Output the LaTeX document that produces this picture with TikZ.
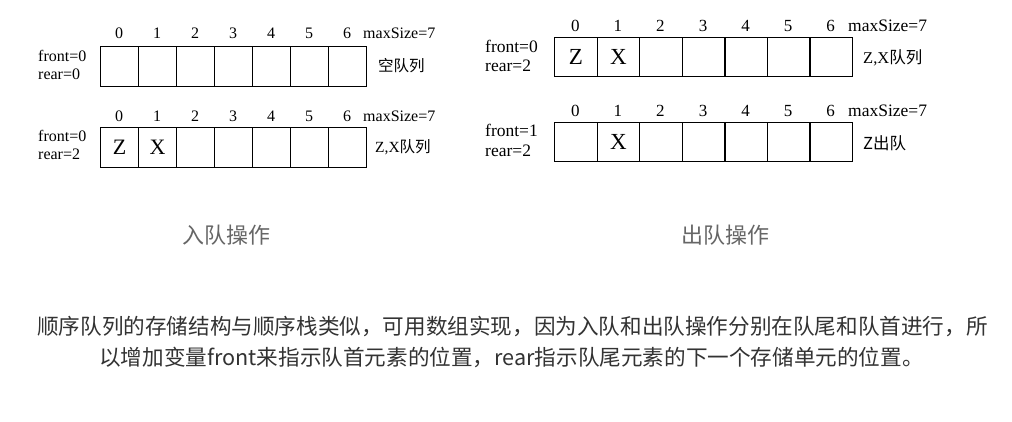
\documentclass[tikz,border=0pt]{standalone}
\usepackage{fontspec}
\setmainfont{Liberation Serif}
\newfontfamily\cjk{Noto Sans CJK SC}
\definecolor{capgray}{HTML}{666666}
\definecolor{txtgray}{HTML}{333333}
\begin{document}
\begin{tikzpicture}[x=1pt,y=-1pt,
  cellL/.style={draw,line width=1.3pt,inner sep=0pt,anchor=north west,minimum width=38pt,minimum height=40pt},
  cellR/.style={draw,line width=1.3pt,inner sep=0pt,anchor=north west,minimum width=42.57pt,minimum height=39pt},
  lblL/.style={inner sep=0pt,anchor=base west,font=\fontsize{16}{18}\selectfont},
  lblR/.style={inner sep=0pt,anchor=base west,font=\fontsize{17.5}{19}\selectfont},
  idxL/.style={inner sep=0pt,anchor=base,font=\fontsize{16}{18}\selectfont},
  idxR/.style={inner sep=0pt,anchor=base,font=\fontsize{17}{19}\selectfont},
  letL/.style={inner sep=0pt,font=\fontsize{22}{24}\selectfont},
  letR/.style={inner sep=0pt,font=\fontsize{23}{25}\selectfont},
  tagL/.style={inner sep=0pt,anchor=west,font=\fontsize{15.5}{17}\selectfont},
  tagR/.style={inner sep=0pt,anchor=west,font=\fontsize{16.5}{18}\selectfont},
  captxt/.style={inner sep=0pt,text=capgray,font=\cjk\fontsize{22}{24}\selectfont},
  paratxt/.style={inner sep=0pt,text=txtgray,font=\cjk\fontsize{21.6}{26}\selectfont}]
\useasboundingbox (0,0) rectangle (1012,422);
\fill[white] (0,0) rectangle (1012,422);

% ---- left top: empty queue
\foreach \i in {0,...,6} {
  \node[cellL] (a\i) at (100+38*\i,46) {};
  \node[idxL] (ai\i) at (119+38*\i,39) {\i};
}
\node[lblL] (amax) at (363,39) {maxSize=7};
\node[lblL] (afront) at (38,61.5) {front=0};
\node[lblL] (arear) at (38,80) {rear=0};
\node[tagL] (atag) at (378,66) {\cjk 空队列};

% ---- left bottom: Z,X queue
\foreach \i in {0,...,6} {
  \node[cellL] (b\i) at (100+38*\i,127) {};
  \node[idxL] (bi\i) at (119+38*\i,121.7) {\i};
}
\node[letL] (bz) at (b0.center) {Z};
\node[letL] (bx) at (b1.center) {X};
\node[lblL] (bmax) at (363,121.7) {maxSize=7};
\node[lblL] (bfront) at (38,141.5) {front=0};
\node[lblL] (brear) at (38,160) {rear=2};
\node[tagL] (btag) at (375,147.5) {Z,X\cjk 队列};

% ---- right top: Z,X queue
\foreach \i in {0,...,6} {
  \node[cellR] (c\i) at (554+42.57*\i,37) {};
  \node[idxR] (ci\i) at (575.3+42.57*\i,31.7) {\i};
}
\node[letR] (cz) at (c0.center) {Z};
\node[letR] (cx) at (c1.center) {X};
\node[lblR] (cmax) at (848,31.7) {maxSize=7};
\node[lblR] (cfront) at (485,53) {front=0};
\node[lblR] (crear) at (485,71.5) {rear=2};
\node[tagR] (ctag) at (863,58) {Z,X\cjk 队列};

% ---- right bottom: Z dequeued
\foreach \i in {0,...,6} {
  \node[cellR] (d\i) at (554+42.57*\i,122) {};
  \node[idxR] (di\i) at (575.3+42.57*\i,116.7) {\i};
}
\node[letR] (dx) at (d1.center) {X};
\node[lblR] (dmax) at (848,116.7) {maxSize=7};
\node[lblR] (dfront) at (485,136.5) {front=1};
\node[lblR] (drear) at (485,156.5) {rear=2};
\node[tagR] (dtag) at (863,143) {\cjk Z出队};

% ---- captions
\node[captxt] (capL) at (226,235) {入队操作};
\node[captxt] (capR) at (725.5,235) {出队操作};

% ---- paragraph
\node[paratxt] (p1) at (512.5,327) {顺序队列的存储结构与顺序栈类似，可用数组实现，因为入队和出队操作分别在队尾和队首进行，所};
\node[paratxt] (p2) at (511.5,357) {以增加变量front来指示队首元素的位置，rear指示队尾元素的下一个存储单元的位置。};
\end{tikzpicture}
\end{document}
